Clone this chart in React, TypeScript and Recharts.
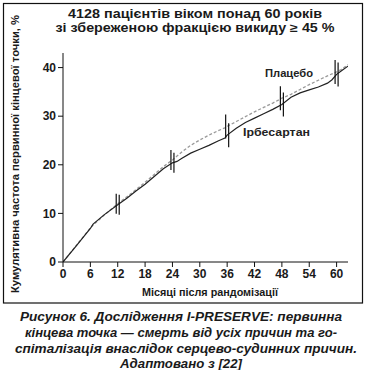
import React from "react";
import { LineChart, Line, XAxis, YAxis } from "recharts";

const months = [0, 3, 6, 6.6, 9, 12, 14, 16, 18, 20, 22, 24, 25, 26, 28, 30, 32, 34, 35.5, 36, 38, 40, 42, 44, 46, 48, 50, 52, 54, 56, 58, 59, 60, 61, 62.5];
const placebo = [0, 3.5, 7.0, 7.6, 9.6, 12.0, 13.4, 14.9, 16.4, 18.0, 19.6, 21.0, 21.8, 22.6, 24.0, 25.1, 26.1, 27.0, 27.6, 27.9, 28.9, 29.9, 30.9, 31.8, 32.7, 33.7, 34.5, 35.5, 36.5, 37.4, 38.3, 38.7, 39.1, 39.6, 40.6];
const irbesartan = [0, 3.4, 6.9, 7.8, 9.7, 11.8, 13.1, 14.6, 16.0, 17.6, 19.2, 20.4, 20.7, 21.3, 22.4, 23.2, 24.0, 24.9, 25.5, 26.1, 27.5, 28.7, 29.6, 30.5, 31.4, 32.4, 33.9, 34.8, 35.4, 36.0, 36.8, 37.5, 38.6, 39.3, 40.3];
const censorMonths = [12, 24, 36, 48, 60];
const xTicks = [0, 6, 12, 18, 24, 30, 36, 42, 48, 54, 60];
const yTicks = [0, 10, 20, 30, 40];

const titleLines = ["4128 пацієнтів віком понад 60 років", "зі збереженою фракцією викиду ≥ 45 %"];
const captionLines = [
  "Рисунок 6. Дослідження I-PRESERVE: первинна",
  "кінцева точка — смерть від усіх причин та го-",
  "спіталізація внаслідок серцево-судинних причин.",
  "Адаптовано з [22]",
];
const yLabel = "Кумулятивна частота первинної кінцевої точки, %";
const xLabel = "Місяці після рандомізації";
const seriesNames = { placebo: "Плацебо", irbesartan: "Ірбесартан" };

const data = months.map((m, i) => ({ month: m, placebo: placebo[i], irbesartan: irbesartan[i] }));

const FONT = "'Liberation Sans', Arial, sans-serif";

const makeCensorDot = (dx: number, half: number) => (props: any) => {
  const { cx, cy, payload, index } = props;
  if (!payload || !censorMonths.includes(payload.month)) return <g key={`d${index}`} />;
  const h = payload.month <= 24 ? half - 2 : half;
  return (
    <line key={`d${index}`} x1={cx + dx} x2={cx + dx} y1={cy - h} y2={cy + h} stroke="#111" strokeWidth={1.2} />
  );
};

export default function App() {
  return (
    <div style={{ position: "absolute", left: 0, top: 0, width: 366, height: 370, background: "#fff" }}>
      <LineChart width={366} height={370} data={data} margin={{ top: 53, right: 18, bottom: 78, left: 33 }}>
        <XAxis
          dataKey="month"
          type="number"
          domain={[0, 62.5]}
          ticks={xTicks}
          allowDataOverflow
          height={30}
          tickSize={5}
          stroke="#111"
          tick={{ fill: "#1a1a1a", fontSize: 12, fontWeight: 700, fontFamily: FONT }}
          tickLine={{ stroke: "#111" }}
        />
        <YAxis
          type="number"
          domain={[0, 43]}
          ticks={yTicks}
          allowDataOverflow
          width={30}
          tickSize={5}
          stroke="#111"
          tick={{ fill: "#1a1a1a", fontSize: 12, fontWeight: 700, fontFamily: FONT }}
          tickLine={{ stroke: "#111" }}
        />
        <Line
          dataKey="placebo"
          type="linear"
          stroke="#9a9a9a"
          strokeWidth={1.3}
          strokeDasharray="3 2"
          dot={makeCensorDot(-1.5, 12)}
          activeDot={false}
          isAnimationActive={false}
        />
        <Line
          dataKey="irbesartan"
          type="linear"
          stroke="#222"
          strokeWidth={1.2}
          dot={makeCensorDot(1.5, 12)}
          activeDot={false}
          isAnimationActive={false}
        />
      </LineChart>
      <svg
        width={366}
        height={370}
        style={{ position: "absolute", left: 0, top: 0, pointerEvents: "none" }}
        fontFamily={FONT}
      >
        <rect x={3.5} y={3.5} width={359} height={299.5} fill="none" stroke="#111" strokeWidth={1.2} />
        <text x={195} y={17.5} textAnchor="middle" fontSize={12} fontWeight={700} fill="#1a1a1a" textLength={254} lengthAdjust="spacingAndGlyphs">
          {titleLines[0]}
        </text>
        <text x={195} y={31.5} textAnchor="middle" fontSize={12} fontWeight={700} fill="#1a1a1a" textLength={279} lengthAdjust="spacingAndGlyphs">
          {titleLines[1]}
        </text>
        <text
          transform="translate(18.5,154) rotate(-90)"
          textAnchor="middle"
          fontSize={10}
          fontWeight={700}
          fill="#1a1a1a"
          textLength={278}
          lengthAdjust="spacingAndGlyphs"
        >
          {yLabel}
        </text>
        <text x={210} y={296} textAnchor="middle" fontSize={11} fontWeight={700} fill="#1a1a1a" textLength={136} lengthAdjust="spacingAndGlyphs">
          {xLabel}
        </text>
        <text x={289} y={77} textAnchor="middle" fontSize={11} fontWeight={700} fill="#222" textLength={48} lengthAdjust="spacingAndGlyphs">
          {seriesNames.placebo}
        </text>
        <text x={276.5} y={136} textAnchor="middle" fontSize={11} fontWeight={700} fill="#222" textLength={67} lengthAdjust="spacingAndGlyphs">
          {seriesNames.irbesartan}
        </text>
        <text x={181} y={321} textAnchor="middle" fontSize={13} fontWeight={700} fontStyle="italic" fill="#1a1a1a" textLength={322} lengthAdjust="spacingAndGlyphs">
          {captionLines[0]}
        </text>
        <text x={181} y={337} textAnchor="middle" fontSize={13} fontWeight={700} fontStyle="italic" fill="#1a1a1a" textLength={312} lengthAdjust="spacingAndGlyphs">
          {captionLines[1]}
        </text>
        <text x={186} y={353} textAnchor="middle" fontSize={13} fontWeight={700} fontStyle="italic" fill="#1a1a1a" textLength={342} lengthAdjust="spacingAndGlyphs">
          {captionLines[2]}
        </text>
        <text x={181} y={368} textAnchor="middle" fontSize={13} fontWeight={700} fontStyle="italic" fill="#1a1a1a" textLength={122} lengthAdjust="spacingAndGlyphs">
          {captionLines[3]}
        </text>
      </svg>
    </div>
  );
}
